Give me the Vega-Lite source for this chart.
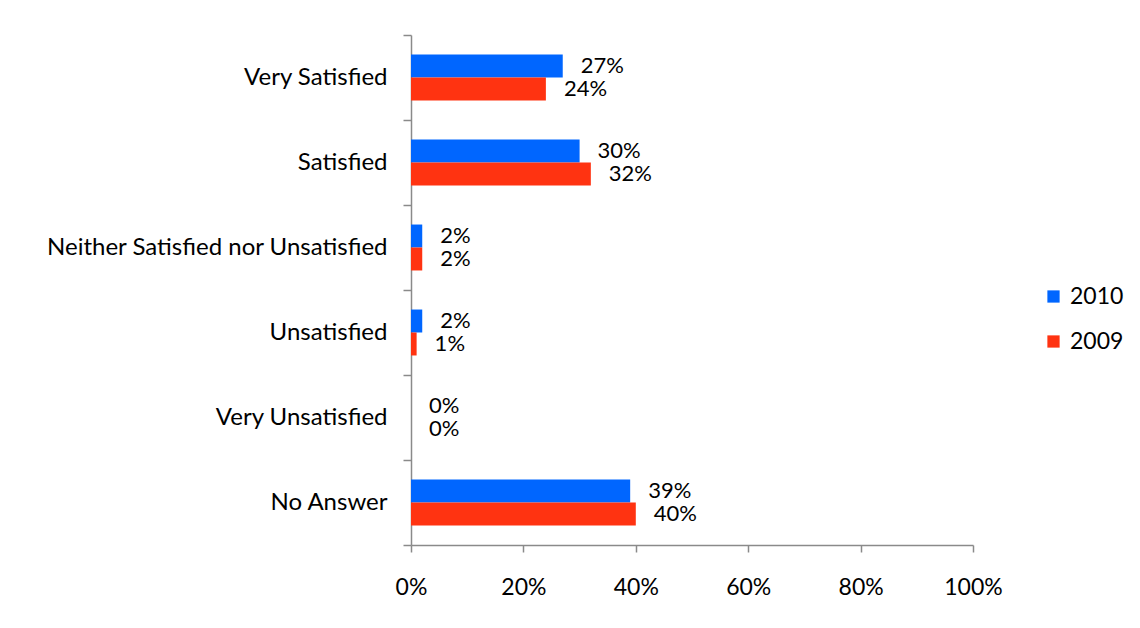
{
  "$schema": "https://vega.github.io/schema/vega-lite/v6.json",
  "autosize": {"type": "none"},
  "padding": {"left": 411, "top": 35, "right": 167, "bottom": 83},
  "width": 562,
  "height": 510,
  "background": "white",
  "config": {
    "view": {"stroke": null},
    "font": "Lato",
    "axis": {"labelFont": "Lato", "labelFontSize": 23, "labelColor": "#000000", "domainColor": "#8a8a8a", "tickColor": "#8a8a8a", "domainWidth": 1.5, "tickWidth": 1.5, "grid": false, "title": null}
  },
  "data": {
    "values": [
      {"category": "Very Satisfied", "year": "2010", "value": 0.27},
      {"category": "Very Satisfied", "year": "2009", "value": 0.24},
      {"category": "Satisfied", "year": "2010", "value": 0.30},
      {"category": "Satisfied", "year": "2009", "value": 0.32},
      {"category": "Neither Satisfied nor Unsatisfied", "year": "2010", "value": 0.02},
      {"category": "Neither Satisfied nor Unsatisfied", "year": "2009", "value": 0.02},
      {"category": "Unsatisfied", "year": "2010", "value": 0.02},
      {"category": "Unsatisfied", "year": "2009", "value": 0.01},
      {"category": "Very Unsatisfied", "year": "2010", "value": 0.0},
      {"category": "Very Unsatisfied", "year": "2009", "value": 0.0},
      {"category": "No Answer", "year": "2010", "value": 0.39},
      {"category": "No Answer", "year": "2009", "value": 0.40}
    ]
  },
  "encoding": {
    "y": {
      "field": "category", "type": "nominal",
      "sort": ["Very Satisfied", "Satisfied", "Neither Satisfied nor Unsatisfied", "Unsatisfied", "Very Unsatisfied", "No Answer"],
      "scale": {"paddingInner": 0, "paddingOuter": 0},
      "axis": {"tickBand": "extent", "tickSize": 8, "labelPadding": 16, "labelLimit": 500, "labelFontSize": 24}
    },
    "yOffset": {"field": "year", "type": "nominal", "sort": ["2010", "2009"], "scale": {"paddingInner": 0.0, "paddingOuter": 0.85}},
    "x": {
      "field": "value", "type": "quantitative",
      "scale": {"domain": [0, 1], "nice": false},
      "axis": {"format": ".0%", "values": [0, 0.2, 0.4, 0.6, 0.8, 1.0], "tickSize": 7, "labelPadding": 24, "labelFlush": false}
    }
  },
  "layer": [
    {
      "mark": {"type": "bar"},
      "encoding": {
        "color": {
          "field": "year", "type": "nominal",
          "scale": {"domain": ["2010", "2009"], "range": ["#0066FF", "#FF3311"]},
          "legend": {
            "title": null, "orient": "none", "legendX": 631, "legendY": 250,
            "symbolType": "square", "symbolSize": 150, "symbolStrokeWidth": 0,
            "labelFont": "Lato", "labelFontSize": 23, "labelColor": "#000000",
            "rowPadding": 21, "labelOffset": 5
          }
        }
      }
    },
    {
      "mark": {"type": "text", "align": "left", "baseline": "middle", "dx": 18, "fontSize": 22, "font": "Lato", "color": "#000000"},
      "encoding": {
        "text": {"field": "value", "type": "quantitative", "format": ".0%"}
      }
    }
  ]
}
